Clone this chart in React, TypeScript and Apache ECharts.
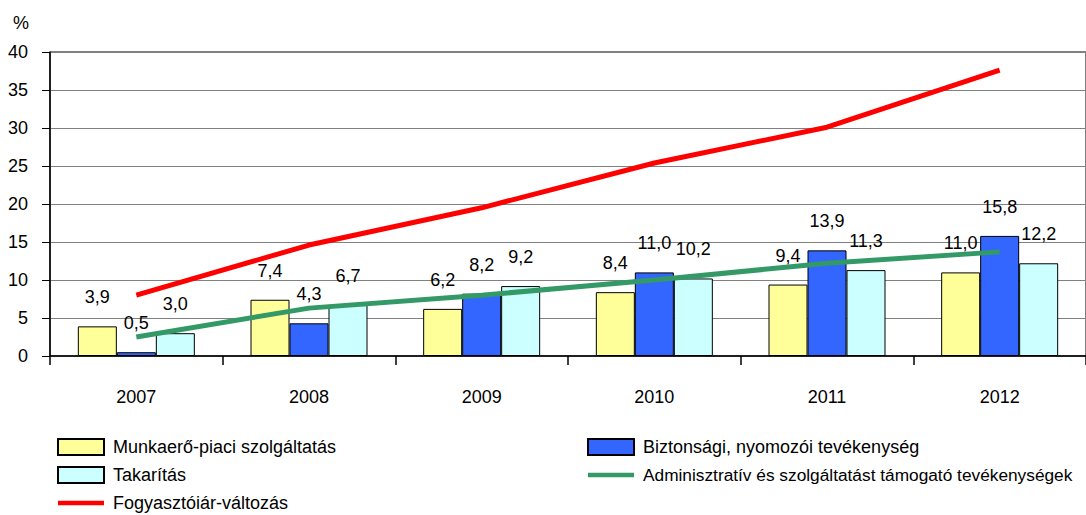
import React, { useEffect, useRef } from "react";
import * as echarts from "echarts";

const categories = ["2007", "2008", "2009", "2010", "2011", "2012"];
const munkaero = [3.9, 7.4, 6.2, 8.4, 9.4, 11.0];
const biztonsagi = [0.5, 4.3, 8.2, 11.0, 13.9, 15.8];
const takaritas = [3.0, 6.7, 9.2, 10.2, 11.3, 12.2];
const adminisztrativ = [2.5, 6.3, 8.0, 10.0, 12.2, 13.7];
const fogyasztoiar = [8.0, 14.6, 19.5, 25.4, 30.1, 37.6];

const names = {
  munkaero: "Munkaerő-piaci szolgáltatás",
  biztonsagi: "Biztonsági, nyomozói tevékenység",
  takaritas: "Takarítás",
  admin: "Adminisztratív és szolgáltatást támogató tevékenységek",
  fogy: "Fogyasztóiár-változás",
};

const FONT = "'Liberation Sans', Arial, sans-serif";
const LINE_ICON = "path://M0,0H50V5H0Z";

export default function App() {
  const ref = useRef<HTMLDivElement>(null);
  useEffect(() => {
    document.body.style.margin = "0";
    if (!ref.current) return;
    const chart = echarts.init(ref.current, undefined, { renderer: "svg" });
    const fmt = (p: any) => Number(p.value).toFixed(1).replace(".", ",");
    const barLabel = {
      show: true,
      position: "top",
      distance: 20,
      formatter: fmt,
      fontSize: 18,
      fontFamily: FONT,
      color: "#000",
    };
    const barBase = (name: string, data: number[], color: string) => ({
      name,
      type: "bar",
      data,
      barWidth: 39,
      barGap: "0%",
      itemStyle: { color, borderColor: "#000", borderWidth: 1 },
      label: barLabel,
      z: 2,
    });
    const legendCommon = {
      orient: "vertical",
      top: 438,
      itemWidth: 46,
      itemHeight: 16,
      itemGap: 10,
      padding: 0,
      textStyle: {
        fontSize: 18,
        fontFamily: FONT,
        color: "#000",
        lineHeight: 18,
        padding: [0, 0, 0, 4],
      },
    };
    chart.setOption({
      animation: false,
      textStyle: { fontFamily: FONT },
      grid: {
        left: 50,
        top: 52,
        width: 1042,
        height: 304,
        show: true,
        borderColor: "#000",
        borderWidth: 1,
        backgroundColor: "transparent",
      },
      graphic: [
        {
          type: "text",
          left: 13,
          top: 14,
          style: { text: "%", fontSize: 18, fontFamily: FONT, fill: "#000" },
        },
      ],
      legend: [
        {
          ...legendCommon,
          left: 57,
          data: [
            { name: names.munkaero, icon: "rect" },
            { name: names.takaritas, icon: "rect" },
            { name: names.fogy, icon: LINE_ICON },
          ],
        },
        {
          ...legendCommon,
          left: 587,
          data: [
            { name: names.biztonsagi, icon: "rect" },
            {
              name: names.admin,
              icon: LINE_ICON,
              textStyle: { fontSize: 17.3 },
            },
          ],
        },
      ],
      xAxis: {
        type: "category",
        data: categories,
        axisLine: { lineStyle: { color: "#000", width: 1.5 } },
        axisTick: { show: true, length: 9, lineStyle: { color: "#000", width: 1.5 } },
        axisLabel: { fontSize: 18, fontFamily: FONT, color: "#000", margin: 32 },
      },
      yAxis: {
        type: "value",
        min: 0,
        max: 40,
        interval: 5,
        axisLine: { show: true, lineStyle: { color: "#000", width: 1.5 } },
        axisTick: { show: true, length: 8, lineStyle: { color: "#000", width: 1 } },
        axisLabel: { fontSize: 18, fontFamily: FONT, color: "#000", margin: 22 },
        splitLine: { lineStyle: { color: "#808080", width: 1 } },
      },
      series: [
        barBase(names.munkaero, munkaero, "#FFFF99"),
        barBase(names.biztonsagi, biztonsagi, "#3366FF"),
        barBase(names.takaritas, takaritas, "#CCFFFF"),
        {
          name: names.admin,
          type: "line",
          data: adminisztrativ,
          symbol: "none",
          lineStyle: { color: "#339966", width: 5 },
          itemStyle: { color: "#339966" },
          z: 3,
        },
        {
          name: names.fogy,
          type: "line",
          data: fogyasztoiar,
          symbol: "none",
          lineStyle: { color: "#FF0000", width: 5 },
          itemStyle: { color: "#FF0000" },
          z: 3,
        },
      ],
    });
    return () => chart.dispose();
  }, []);
  return <div ref={ref} style={{ width: 1086, height: 515 }} />;
}
